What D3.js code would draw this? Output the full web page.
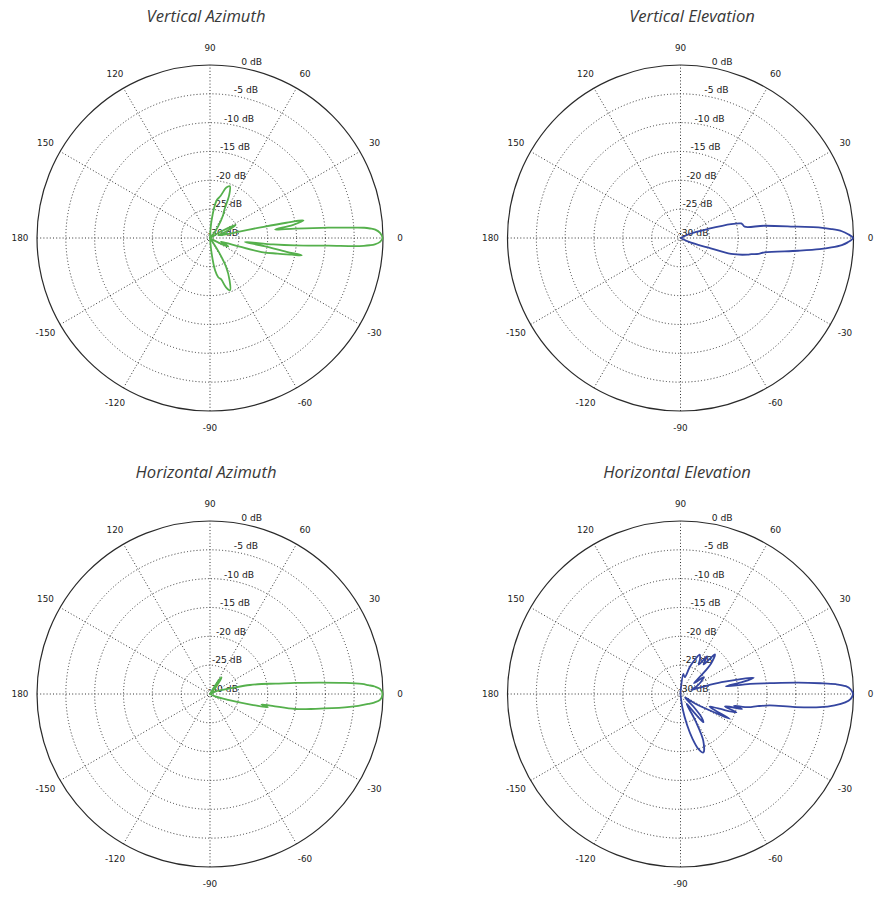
<!DOCTYPE html>
<html>
<head>
<meta charset="utf-8">
<script src="https://cdn.jsdelivr.net/npm/d3@7"></script>
<style>
  body { margin: 0; background: #fff; }
  svg { display: block; }
</style>
</head>
<body>
<svg id="chart"></svg>
<script>
// antenna patterns: [angle in degrees, gain in dB]
var vertAzimuth = [
  [-180,-32],[-95,-32],[-88,-30],[-84,-27.3],[-81,-24.3],[-78,-23],[-75,-22.6],[-72,-21],[-69,-20.3],
  [-65,-22],[-61,-24.2],[-58,-27],[-55,-30],[-40,-31],[-30,-29],[-25,-26.5],[-22,-27],[-18,-28],
  [-16.3,-25.5],[-15.2,-20.7],[-13,-18],[-11.5,-15.5],[-10.7,-13.8],[-10.2,-16.5],[-8.5,-20.5],
  [-6.5,-23.9],[-5.8,-19],[-5,-15.2],[-3.7,-9.4],[-3.2,-4.8],[-2.9,-3.3],[-2.6,-2.3],[-2.2,-1.4],
  [-1.3,-0.5],[0,-0.1],[1.7,-0.5],[2.9,-1.3],[3.4,-2.2],[3.8,-3.2],[4.1,-4.8],[5,-9.4],[6.3,-15.2],
  [7.4,-18.6],[8.9,-15.5],[10.7,-13.5],[11.3,-16.5],
  [11.8,-20.5],[12.3,-25],[13,-28],[15,-27],[18,-28.5],[22,-27],[27,-25],[31,-28],[40,-31],
  [50,-29],[55,-27.5],[60,-25.5],[63,-24.5],[66,-21.8],[69,-20.4],[72,-20.8],[76,-22.5],
  [80,-23.4],[85,-27],[90,-31],[180,-32]
];
var vertElevation = [
  [-180,-32],[-40,-32],[-30,-30.5],[-24,-28],[-19,-25],[-17.5,-20.8],[-13.9,-18],[-12.8,-17.4],
  [-11.5,-16.2],[-9.7,-15.2],[-6.2,-9.5],[-4.6,-5.8],[-3.6,-3.8],[-2.5,-2],[-1.5,-1],[0,-0.1],
  [1.4,-1],[2.4,-2],[3.4,-3.8],[4.4,-6],[5.5,-9.6],[8.3,-15.3],[10,-18.7],[12.5,-19],[13.5,-19.2],
  [15.4,-20.9],[18.2,-25],[23,-28],[30,-30.5],[40,-32],[180,-32]
];
var horizAzimuth = [
  [-180,-32],[-60,-32],[-35,-31],[-25,-29],[-18,-26.7],[-14.5,-22.5],[-13,-19.7],[-11.5,-20.9],
  [-10.8,-19],[-10,-15],[-8,-11.5],[-5.7,-6.5],[-4.6,-4.2],[-3.6,-2.5],[-3,-1.5],[-2,-0.5],[0,-0.1],
  [1.7,-0.5],[2.6,-1.4],[3.2,-2.5],[3.8,-3.6],[4.7,-6.5],[6,-11],[7.4,-15.1],[9,-18.5],[11,-20.9],
  [12.7,-22.9],[14.8,-25.5],[18,-27.5],
  [25,-29],[35,-31],[48,-29],[52,-27.5],[55,-26.5],[58,-27.5],[62,-30],[70,-32],[180,-32]
];
var horizElevation = [
  [-180,-32],[-95,-32],[-86,-30],[-82,-27.5],[-78,-24.5],[-75,-22],[-72,-20],[-68.7,-19.1],
  [-64,-21],[-61,-24.5],[-58,-28],[-54,-26.5],[-51,-23.7],[-48,-24.5],[-44,-27],[-38,-29],
  [-33,-27],[-29,-24],[-26.8,-20.4],[-23.5,-24.5],[-21,-23],[-18.2,-19.8],[-15.5,-22],[-13.8,-19],
  [-12.5,-20.5],[-11,-18],[-9,-16.5],[-7.3,-14.4],[-6.5,-10],[-5.4,-5.7],[-4.2,-3.2],[-2.9,-1.4],
  [-1.7,-0.5],[0,-0.1],[1.6,-0.5],[2.7,-1.3],[3.6,-3],[4.4,-5.7],[5.5,-9.5],[6.9,-14.4],[8.3,-17.8],
  [9.6,-22],[11,-19],
  [12.5,-17],[14,-19.5],[16,-22.6],[18,-26],[21,-28],[25,-27],[30,-26],[33,-25.5],[36,-25],
  [39,-27],[42,-25],[45,-22.5],[49,-20.9],[52,-23.5],[55,-22],[58,-24],[61,-23],[64,-22.4],
  [67,-23.4],[71,-25],[76,-27],[82,-26.5],[86,-29],[92,-31],[180,-32]
];

var titles = ["Vertical Azimuth", "Vertical Elevation", "Horizontal Azimuth", "Horizontal Elevation"];
var angleTicks = [0, 30, 60, 90, 120, 150, 180, 210, 240, 270, 300, 330];
var angleLabels = ["0", "30", "60", "90", "120", "150", "180", "-150", "-120", "-90", "-60", "-30"];
var dbTicks = [0, -5, -10, -15, -20, -25, -30];
var dbLabels = ["0 dB", "-5 dB", "-10 dB", "-15 dB", "-20 dB", "-25 dB", "-30 dB"];

var svgWidth = 890, svgHeight = 900, R = 173;
var green = "#55b04c", blue = "#3546a0";

var panels = [
  {data: vertAzimuth, cx: 210, cy: 238, color: green, tx: 206, ty: 22},
  {data: vertElevation, cx: 680.5, cy: 238, color: blue, tx: 692, ty: 22},
  {data: horizAzimuth, cx: 210, cy: 694, color: green, tx: 206, ty: 478},
  {data: horizElevation, cx: 680.5, cy: 694, color: blue, tx: 677, ty: 478}
];

var svg = d3.select("#chart")
    .attr("width", svgWidth)
    .attr("height", svgHeight);

// dB -> radius, everything under -30 dB sits on the centre
var rScale = d3.scaleLinear().domain([-30, 0]).range([0, R]).clamp(true);
var rad = Math.PI / 180;

panels.forEach(function(p, i) {
    var g = svg.append("g")
        .attr("transform", "translate(" + p.cx + "," + p.cy + ")");

    // title
    svg.append("text")
        .attr("x", p.tx)
        .attr("y", p.ty)
        .attr("text-anchor", "middle")
        .style("font-family", "'Open Sans', sans-serif")
        .style("font-style", "italic")
        .style("font-size", "16.6px")
        .style("fill", "#383838")
        .text(titles[i]);

    // dotted rings
    g.selectAll(".ring")
        .data(dbTicks.slice(1, 6))
        .enter()
        .append("circle")
        .attr("r", function(d) { return rScale(d); })
        .attr("fill", "none")
        .attr("stroke", "#333")
        .attr("stroke-width", 1)
        .attr("stroke-dasharray", "1,2.2");

    // dotted spokes
    g.selectAll(".spoke")
        .data(angleTicks.slice(0, 6))
        .enter()
        .append("line")
        .attr("x1", function(d) { return -R * Math.cos(d * rad); })
        .attr("y1", function(d) { return R * Math.sin(d * rad); })
        .attr("x2", function(d) { return R * Math.cos(d * rad); })
        .attr("y2", function(d) { return -R * Math.sin(d * rad); })
        .attr("stroke", "#333")
        .attr("stroke-width", 1)
        .attr("stroke-dasharray", "1,2.2");

    // outer circle
    g.append("circle")
        .attr("r", R)
        .attr("fill", "none")
        .attr("stroke", "#2a2a2a")
        .attr("stroke-width", 1.2);

    // angle labels
    g.selectAll(".alab")
        .data(angleTicks)
        .enter()
        .append("text")
        .attr("x", function(d) { return (R + 17) * Math.cos(d * rad); })
        .attr("y", function(d) { return -(R + 17) * Math.sin(d * rad); })
        .attr("dy", "0.35em")
        .attr("text-anchor", "middle")
        .style("font-family", "'DejaVu Sans', sans-serif")
        .style("font-size", "8.8px")
        .style("fill", "#222")
        .text(function(d, j) { return angleLabels[j]; });

    // dB labels along 82 degrees
    g.selectAll(".dblab")
        .data(dbTicks)
        .enter()
        .append("text")
        .attr("x", function(d) { return 28 + rScale(d) * Math.cos(82 * rad); })
        .attr("y", function(d) { return -rScale(d) * Math.sin(82 * rad) - 2; })
        .attr("text-anchor", "end")
        .style("font-family", "'DejaVu Sans', sans-serif")
        .style("font-size", "9.2px")
        .style("fill", "#222")
        .text(function(d, j) { return dbLabels[j]; });

    // pattern
    var line = d3.lineRadial()
        .angle(function(d) { return (90 - d[0]) * rad; })
        .radius(function(d) { return rScale(d[1]); })
        .curve(d3.curveCatmullRom.alpha(0.5));

    g.append("path")
        .datum(p.data)
        .attr("d", line)
        .attr("fill", "none")
        .attr("stroke", p.color)
        .attr("stroke-width", 1.8)
        .attr("stroke-linejoin", "round");
});
</script>
</body>
</html>
